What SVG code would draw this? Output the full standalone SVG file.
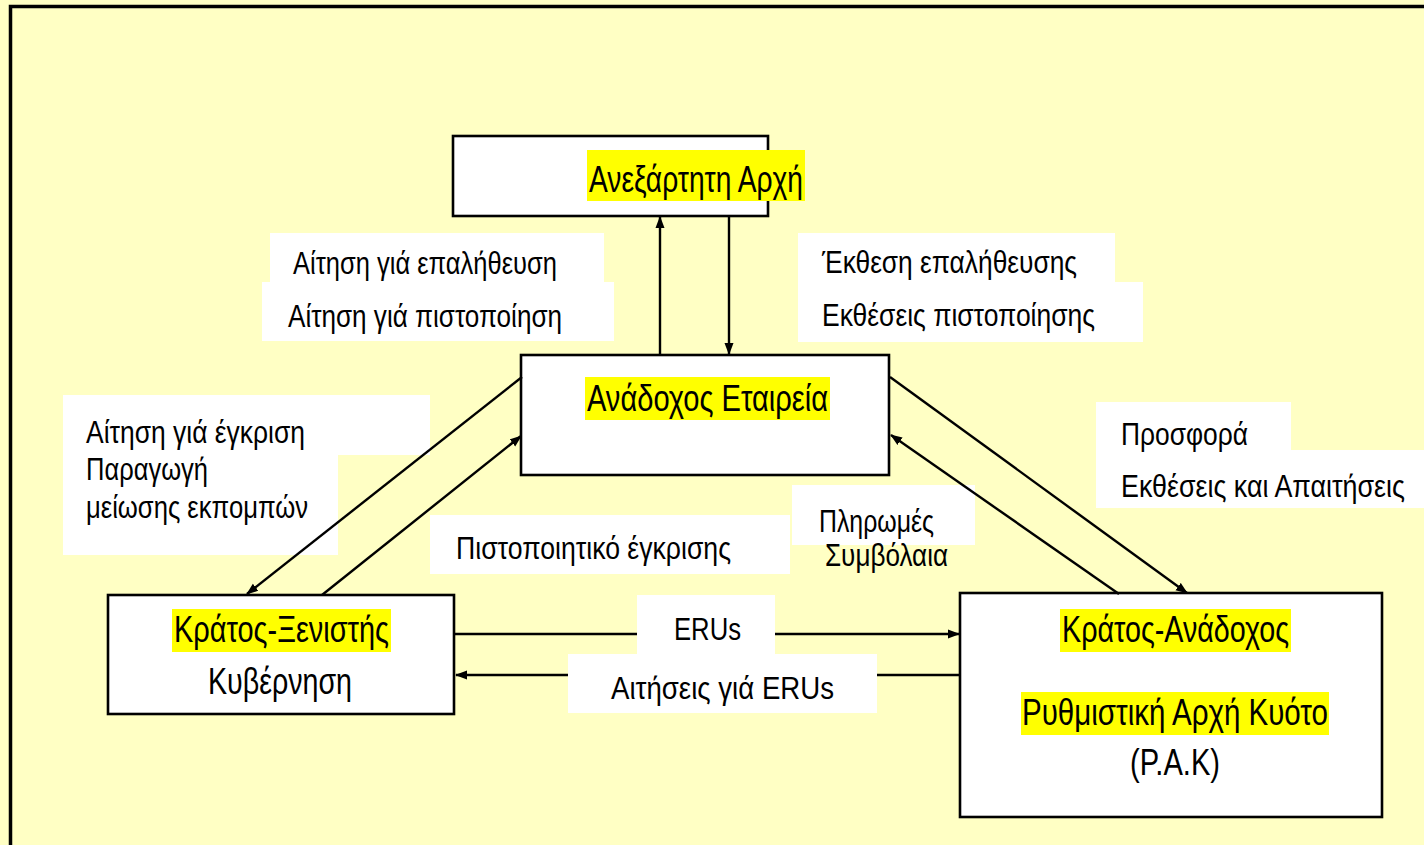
<svg xmlns="http://www.w3.org/2000/svg" width="1424" height="845" viewBox="0 0 1424 845">
<defs>
<marker id="ah" markerUnits="userSpaceOnUse" markerWidth="12" markerHeight="10" refX="11" refY="5" orient="auto">
<path d="M0,0.5 L12,5 L0,9.5 z" fill="#000"/>
</marker>
<style>
.bg{fill:#FFFFC4}
.frame{fill:none;stroke:#000;stroke-width:3.5}
.box{fill:#fff;stroke:#000;stroke-width:2.6}
.hl{fill:#FFFF00}
.wb{fill:#fff}
.h{font-family:"Liberation Sans",Arial,sans-serif;font-size:37px;fill:#000}
.l{font-family:"Liberation Sans",Arial,sans-serif;font-size:32px;fill:#000}
.c{fill:none;stroke:#000;stroke-width:2.4}
</style>
</defs>
<rect class="bg" x="0" y="0" width="1424" height="845"/>
<path class="frame" d="M10.5,850 V6.5 H1430"/>

<g id="label-verif-req">
<rect class="wb" x="270" y="233" width="334" height="49"/>
<rect class="wb" x="262" y="282" width="352" height="59"/>
<text class="l" x="293" y="274" textLength="264" lengthAdjust="spacingAndGlyphs">Αίτηση γιά επαλήθευση</text>
<text class="l" x="288" y="327" textLength="274" lengthAdjust="spacingAndGlyphs">Αίτηση γιά πιστοποίηση</text>
</g>
<g id="label-verif-rep">
<rect class="wb" x="798" y="233" width="317" height="49"/>
<rect class="wb" x="798" y="282" width="345" height="60"/>
<text class="l" x="822" y="273" textLength="255" lengthAdjust="spacingAndGlyphs">Έκθεση επαλήθευσης</text>
<text class="l" x="822" y="326" textLength="273" lengthAdjust="spacingAndGlyphs">Εκθέσεις πιστοποίησης</text>
</g>
<g id="label-approval-req">
<rect class="wb" x="63" y="395" width="367" height="60"/>
<rect class="wb" x="63" y="455" width="275" height="100"/>
<text class="l" x="86" y="443" textLength="219" lengthAdjust="spacingAndGlyphs">Αίτηση γιά έγκριση</text>
<text class="l" x="86" y="480" textLength="122" lengthAdjust="spacingAndGlyphs">Παραγωγή</text>
<text class="l" x="86" y="518" textLength="222" lengthAdjust="spacingAndGlyphs">μείωσης εκπομπών</text>
</g>
<g id="label-approval-cert">
<rect class="wb" x="430" y="515" width="360" height="59"/>
<text class="l" x="456" y="559" textLength="275" lengthAdjust="spacingAndGlyphs">Πιστοποιητικό έγκρισης</text>
</g>
<g id="label-payments">
<rect class="wb" x="792" y="485" width="183" height="60"/>
<text class="l" x="819" y="532" textLength="115" lengthAdjust="spacingAndGlyphs">Πληρωμές</text>
<text class="l" x="825" y="566" textLength="123" lengthAdjust="spacingAndGlyphs">Συμβόλαια</text>
</g>
<g id="label-offer">
<rect class="wb" x="1096" y="402" width="195" height="48"/>
<rect class="wb" x="1096" y="450" width="328" height="58"/>
<text class="l" x="1121" y="445" textLength="127" lengthAdjust="spacingAndGlyphs">Προσφορά</text>
<text class="l" x="1121" y="497" textLength="284" lengthAdjust="spacingAndGlyphs">Εκθέσεις και Απαιτήσεις</text>
</g>

<g id="node-independent">
<rect class="box" x="453" y="136" width="315" height="80"/>
<rect class="hl" x="587" y="150" width="218" height="51"/>
<text class="h" x="589" y="192" textLength="214" lengthAdjust="spacingAndGlyphs">Ανεξάρτητη Αρχή</text>
</g>
<g id="node-company">
<rect class="box" x="521" y="355" width="368" height="120"/>
<rect class="hl" x="585" y="377" width="245" height="43"/>
<text class="h" x="587" y="411" textLength="241" lengthAdjust="spacingAndGlyphs">Ανάδοχος Εταιρεία</text>
</g>
<g id="node-host">
<rect class="box" x="108" y="595" width="346" height="119"/>
<rect class="hl" x="172" y="609" width="219" height="43"/>
<text class="h" x="174" y="642" textLength="215" lengthAdjust="spacingAndGlyphs">Κράτος-Ξενιστής</text>
<text class="h" x="208" y="694" textLength="144" lengthAdjust="spacingAndGlyphs">Κυβέρνηση</text>
</g>
<g id="node-investor">
<rect class="box" x="960" y="593" width="422" height="224"/>
<rect class="hl" x="1060" y="609" width="231" height="43"/>
<text class="h" x="1062" y="642" textLength="227" lengthAdjust="spacingAndGlyphs">Κράτος-Ανάδοχος</text>
<rect class="hl" x="1021" y="692" width="308" height="43"/>
<text class="h" x="1022" y="725" textLength="306" lengthAdjust="spacingAndGlyphs">Ρυθμιστική Αρχή Κυότο</text>
<text class="h" x="1130" y="775" textLength="90" lengthAdjust="spacingAndGlyphs">(Ρ.Α.Κ)</text>
</g>

<g id="connectors">
<line class="c" x1="660" y1="355" x2="660" y2="217" marker-end="url(#ah)"/>
<line class="c" x1="729" y1="216" x2="729" y2="354" marker-end="url(#ah)"/>
<line class="c" x1="522" y1="377" x2="247" y2="594" marker-end="url(#ah)"/>
<line class="c" x1="322" y1="595" x2="521" y2="436" marker-end="url(#ah)"/>
<line class="c" x1="890" y1="377" x2="1187" y2="593" marker-end="url(#ah)"/>
<line class="c" x1="1119" y1="594" x2="891" y2="435" marker-end="url(#ah)"/>
<line class="c" x1="455" y1="634" x2="959" y2="634" marker-end="url(#ah)"/>
<line class="c" x1="960" y1="675" x2="456" y2="675" marker-end="url(#ah)"/>
</g>

<g id="label-erus">
<rect class="wb" x="637" y="595" width="138" height="59"/>
<text class="l" x="674" y="640" textLength="67" lengthAdjust="spacingAndGlyphs">ERUs</text>
</g>
<g id="label-eru-requests">
<rect class="wb" x="568" y="654" width="309" height="59"/>
<text class="l" x="611" y="699" textLength="223" lengthAdjust="spacingAndGlyphs">Αιτήσεις γιά ERUs</text>
</g>
</svg>
